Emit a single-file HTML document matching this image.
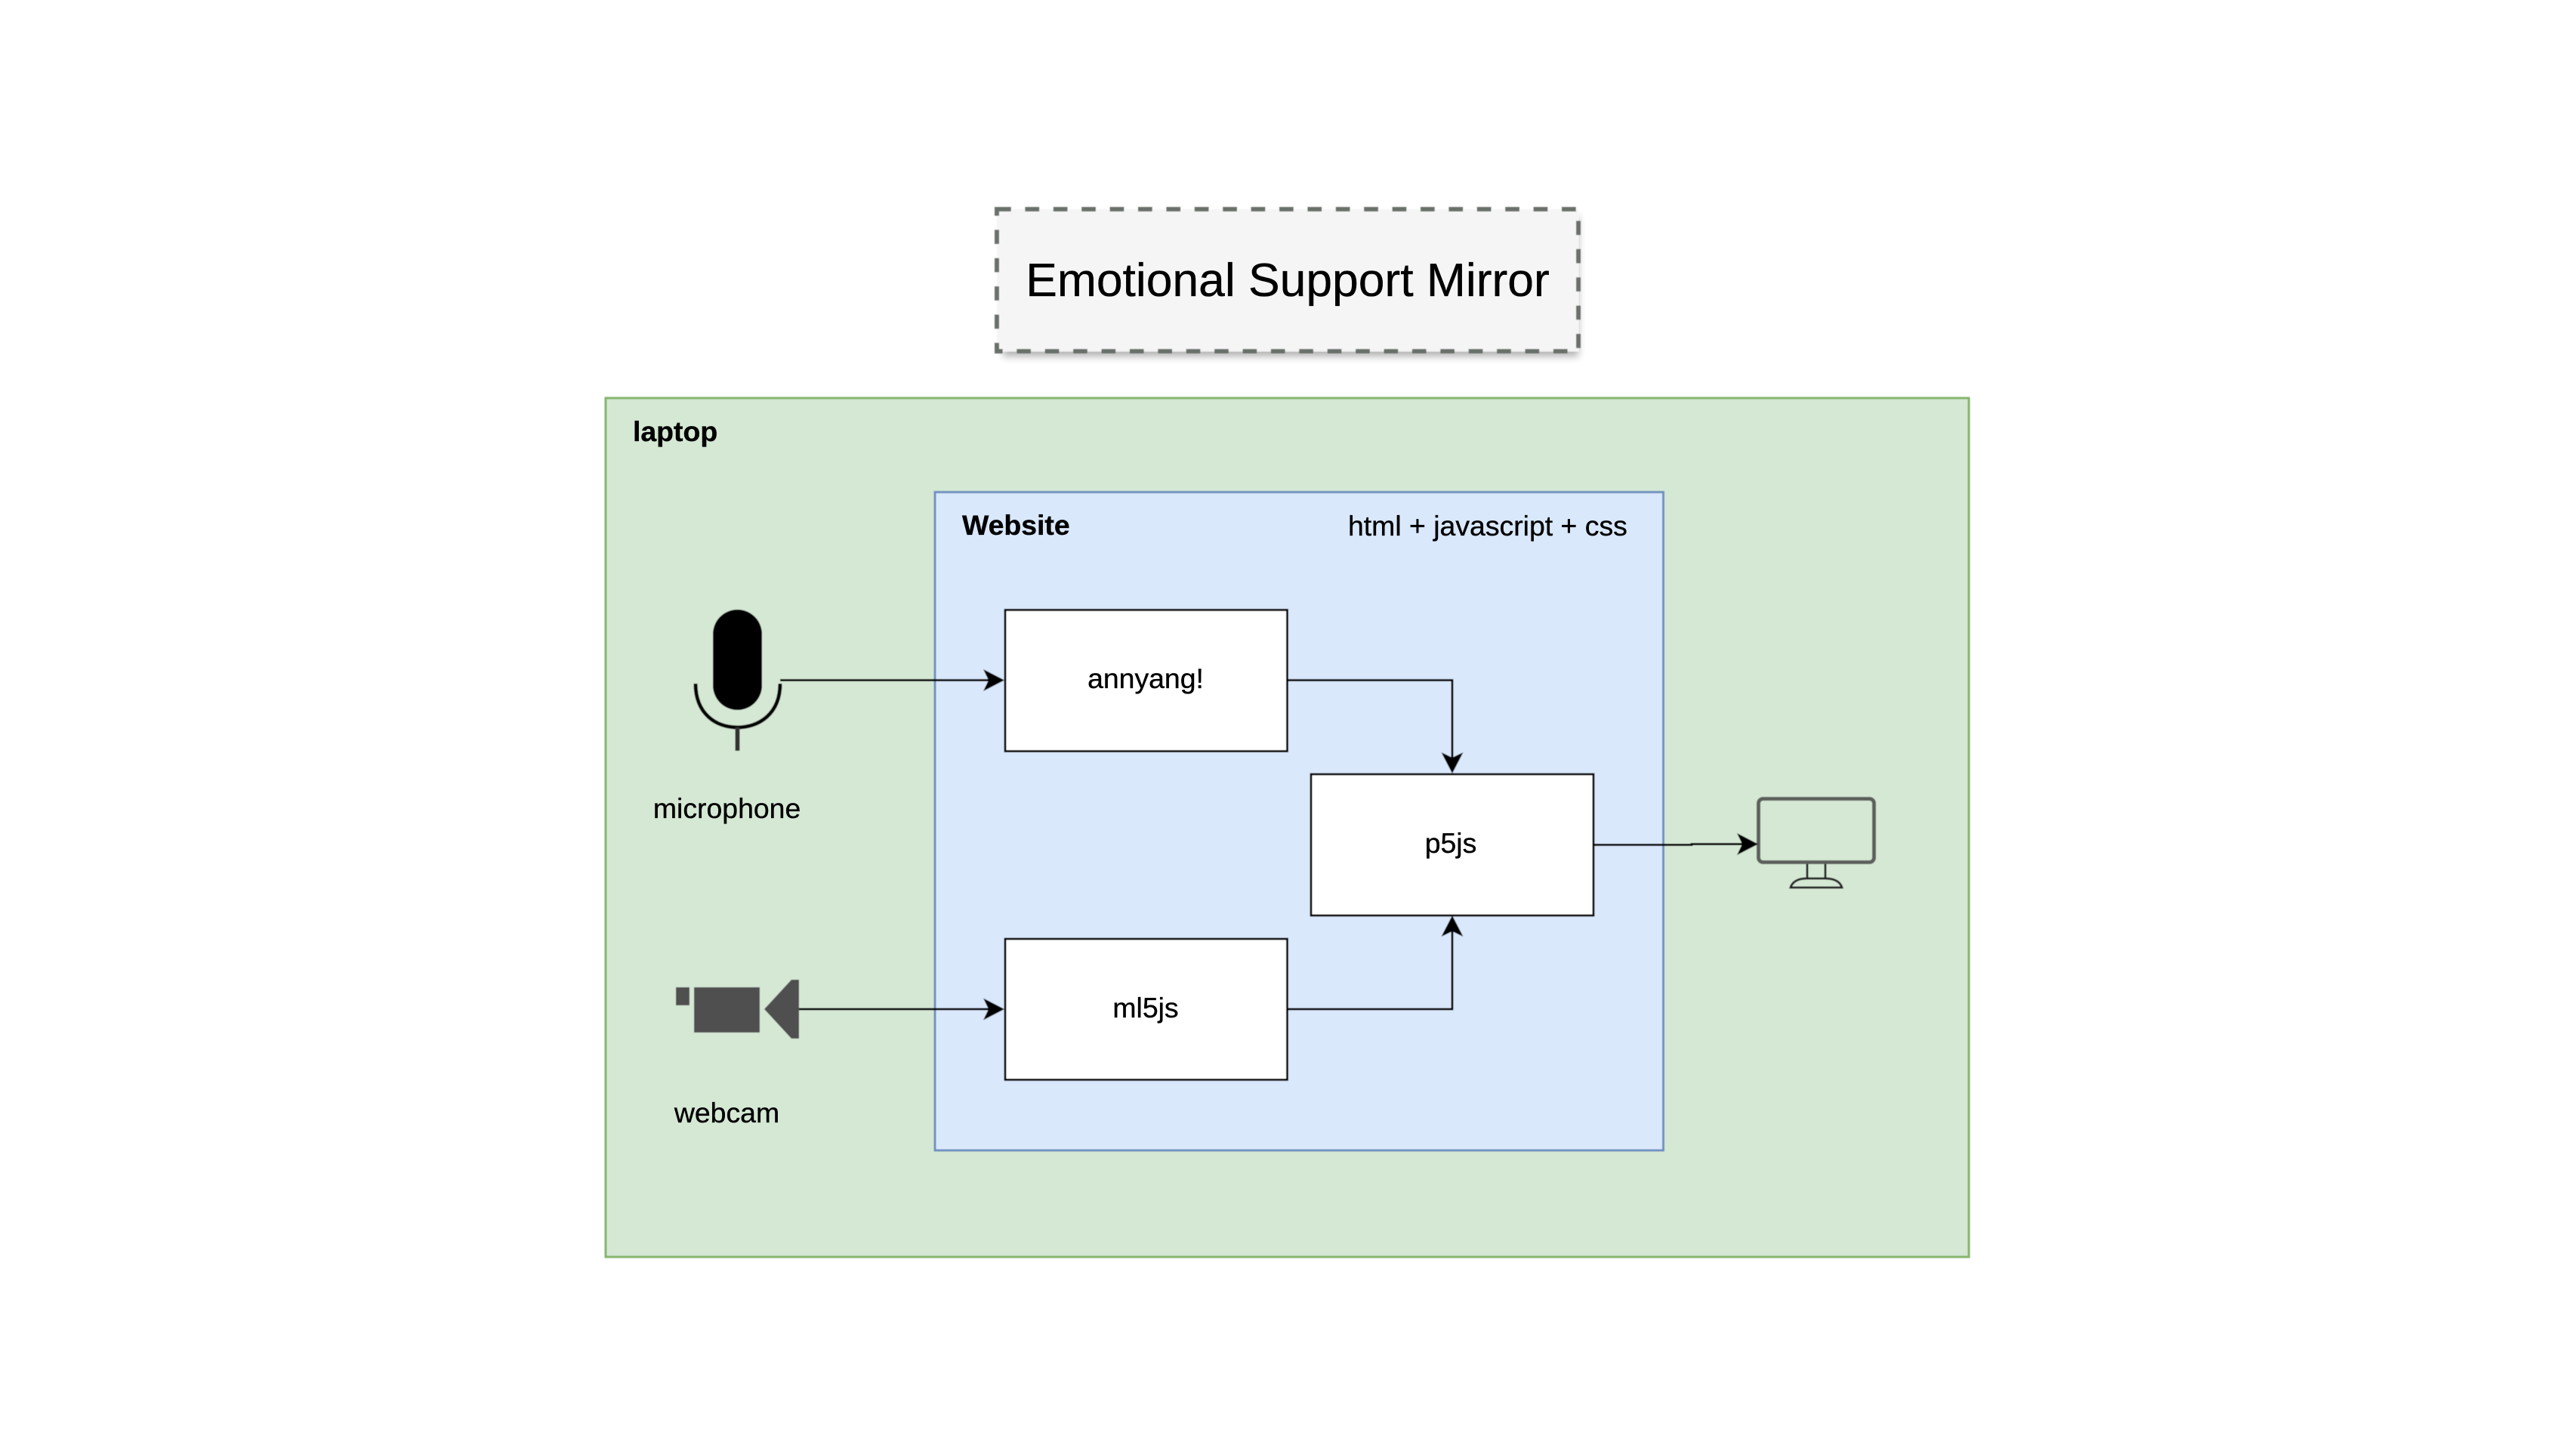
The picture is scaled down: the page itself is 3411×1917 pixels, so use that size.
<!DOCTYPE html>
<html><head><meta charset="utf-8"><style>
html,body{margin:0;padding:0;background:#fff;width:3411px;height:1917px;overflow:hidden}
svg{display:block}
text{font-family:"Liberation Sans",sans-serif;font-size:37.4px;fill:#000;stroke:#000;stroke-width:.35px}
</style></head><body>
<svg width="3411" height="1917" viewBox="0 0 3411 1917" xmlns="http://www.w3.org/2000/svg">
<defs>
<filter id="sh" x="-5%" y="-10%" width="112%" height="125%"><feGaussianBlur stdDeviation="5"/></filter>
<filter id="soft" x="-5%" y="-5%" width="110%" height="110%"><feGaussianBlur stdDeviation="0.6"/></filter>
</defs>
<rect width="3411" height="1917" fill="#fff"/>
<g filter="url(#soft)">
<!-- title -->
<rect x="1328" y="286" width="762" height="186" fill="#000" opacity=".3" filter="url(#sh)"/>
<rect x="1320" y="277" width="770" height="188" fill="#f5f5f5"/>
<rect x="1320" y="277" width="770" height="188" fill="none" stroke="#6b6f6b" stroke-width="6" stroke-dasharray="18.7 18.7"/>

<!-- containers -->
<rect x="802" y="527" width="1805" height="1137" fill="#d5e8d4" stroke="#82b366" stroke-width="3"/>
<rect x="1238" y="651.5" width="964.5" height="871.5" fill="#dae8fc" stroke="#6c8ebf" stroke-width="3"/>

<!-- boxes -->
<rect x="1331" y="807.5" width="373.5" height="187" fill="#fff" stroke="#000" stroke-width="3"/>
<rect x="1736" y="1025" width="374" height="187" fill="#fff" stroke="#000" stroke-width="3"/>
<rect x="1331" y="1243" width="373.5" height="186.5" fill="#fff" stroke="#000" stroke-width="3"/>

<!-- microphone -->
<rect x="944" y="807" width="65" height="133" rx="32.5" ry="32.5" fill="#000"/>
<path d="M921 905 C921 945 948 963 976.5 963 C1005 963 1033 945 1033 905" fill="none" stroke="#000" stroke-width="5"/>
<path d="M976.5 963 V994" stroke="#333" stroke-width="6" fill="none"/>

<!-- webcam -->
<g fill="#505050">
<rect x="895" y="1307" width="18" height="24"/>
<rect x="919" y="1307" width="87" height="60"/>
<path d="M1012 1336 L1048 1297 H1058 V1375 H1048 Z"/>
</g>

<!-- monitor -->
<rect x="2328.5" y="1057.5" width="153" height="84" rx="6" ry="6" fill="none" stroke="#5c5f5c" stroke-width="5"/>
<path d="M2393 1144 V1163 M2417 1144 V1163 M2371 1175 C2373 1168 2380 1163 2392 1163 H2417 C2430 1163 2437 1168 2439 1175 Z" fill="none" stroke="#222" stroke-width="3"/>

<!-- connectors -->
<g fill="none" stroke="#000" stroke-width="3">
<path d="M1033 900.5 H1320"/>
<path d="M1058 1336 H1320"/>
<path d="M1704.5 900.5 H1923 V1014"/>
<path d="M1704.5 1336 H1923 V1222"/>
<path d="M2110 1118.5 H2240 V1117.5 H2320"/>
</g>
<g fill="#000">
<path d="M1330 900.5 L1302 886 L1309 900.5 L1302 915 Z"/>
<path d="M1330 1336 L1302 1321.5 L1309 1336 L1302 1350.5 Z"/>
<path d="M1923 1024 L1908.5 996 L1923 1003 L1937.5 996 Z"/>
<path d="M1923 1212 L1908.5 1240 L1923 1233 L1937.5 1240 Z"/>
<path d="M2328 1117.5 L2300 1103 L2307 1117.5 L2300 1132 Z"/>
</g>
</g>
<!-- text -->
<text x="1705" y="392" text-anchor="middle" style="font-size:62.4px">Emotional Support Mirror</text>
<text x="838" y="584" style="font-weight:bold">laptop</text>
<text x="1274" y="708" style="font-weight:bold">Website</text>
<text x="1785" y="709">html + javascript + css</text>
<text x="1517" y="911" text-anchor="middle">annyang!</text>
<text x="1921" y="1129" text-anchor="middle">p5js</text>
<text x="1517" y="1347" text-anchor="middle">ml5js</text>
<text x="962.6" y="1083" text-anchor="middle">microphone</text>
<text x="962.5" y="1486" text-anchor="middle">webcam</text>
</svg>
</body></html>
